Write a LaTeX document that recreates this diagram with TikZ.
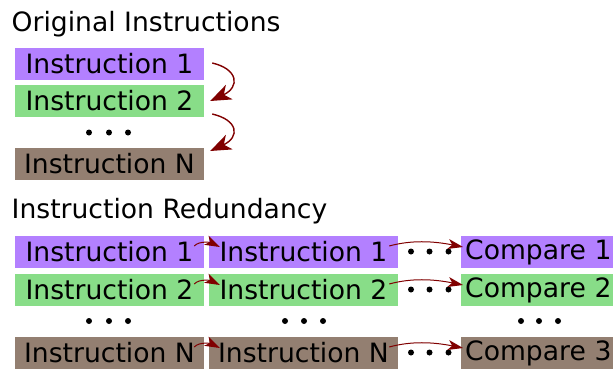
\documentclass[tikz,border=0pt]{standalone}
\usepackage{fontspec}
\setmainfont{DejaVu Sans}
\usetikzlibrary{arrows.meta}
\definecolor{ipurple}{HTML}{B380FF}
\definecolor{igreen}{HTML}{88DD88}
\definecolor{ibrown}{HTML}{937F71}
\definecolor{arrowred}{HTML}{800000}
\begin{document}
\begin{tikzpicture}[x=1pt,y=-1pt,
  every node/.style={inner sep=0pt,font=\fontsize{26.6}{32}\selectfont},
  box/.style={minimum width=189pt,minimum height=32pt},
  cmpbox/.style={minimum height=32pt,text width=148pt,inner xsep=4pt,align=left,anchor=west},
  heading/.style={anchor=base west},
  flow/.style={draw=arrowred,line width=1.4pt,-{Stealth[length=21pt,width=16pt,inset=6pt]}},
  hop/.style={draw=arrowred,line width=1pt,-{Stealth[length=15pt,width=10pt,inset=4pt]}},
  dot/.style={circle,fill=black,minimum size=6pt}
]
\useasboundingbox (0,0) rectangle (613,370);

% original sequence
\node[heading] (t1) at (11.5,31) {Original Instructions};
\node[box,fill=ipurple] (o1) at (109.5,64) {Instruction 1};
\node[box,fill=igreen] (o2) at (109.5,101) {Instruction 2};
\node[box,fill=ibrown] (on) at (109.5,164) {Instruction N};
\foreach \x/\n in {89/a,109/b,128/c}
  \node[dot] (od\n) at (\x,132.5) {};

\draw[flow] ([xshift=8pt,yshift=1pt]o1.east) .. controls +(26,6) and +(30,-14) .. ([xshift=6pt]o2.east);
\draw[flow] ([xshift=8pt,yshift=-13pt]o2.east) .. controls +(26,6) and +(30,-14) .. ([xshift=6pt,yshift=13pt]on.east);

% redundant execution
\node[heading] (t2) at (11.5,218) {Instruction Redundancy};

\node[box,fill=ipurple] (a1) at (109.5,252) {Instruction 1};
\node[box,fill=igreen] (a2) at (109.5,290) {Instruction 2};
\node[box,fill=ibrown] (an) at (109.5,353) {Instruction N};

\node[box,fill=ipurple] (b1) at (303.5,252) {Instruction 1};
\node[box,fill=igreen] (b2) at (303.5,290) {Instruction 2};
\node[box,fill=ibrown] (bn) at (303.5,353) {Instruction N};

\node[cmpbox,fill=ipurple] (c1) at (461,252) {Compare 1};
\node[cmpbox,fill=igreen] (c2) at (461,290) {Compare 2};
\node[cmpbox,fill=ibrown] (cn) at (461,353) {Compare 3};

\foreach \x/\n in {89/a,109/b,128/c} \node[dot] (ad\n) at (\x,321) {};
\foreach \x/\n in {285/a,304/b,323/c} \node[dot] (bd\n) at (\x,321) {};
\foreach \x/\n in {521/a,539/b,558/c} \node[dot] (cd\n) at (\x,321) {};

\foreach \r/\y in {1/251.5,2/289.5,n/352.5}
  \foreach \x/\n in {411/a,429.5/b,448.5/c}
    \node[dot] (gd\r\n) at (\x,\y) {};

\foreach \r in {1,2,n} {
  \draw[hop] ([xshift=-10pt,yshift=6pt]a\r.east) .. controls +(6,-6) and +(-8,-4) .. ([xshift=11pt,yshift=5pt]b\r.west);
  \draw[hop] ([xshift=-9pt,yshift=6pt]b\r.east) .. controls +(22,-6) and +(-30,-6) .. ([xshift=2pt,yshift=5pt]c\r.west);
}
\end{tikzpicture}
\end{document}
